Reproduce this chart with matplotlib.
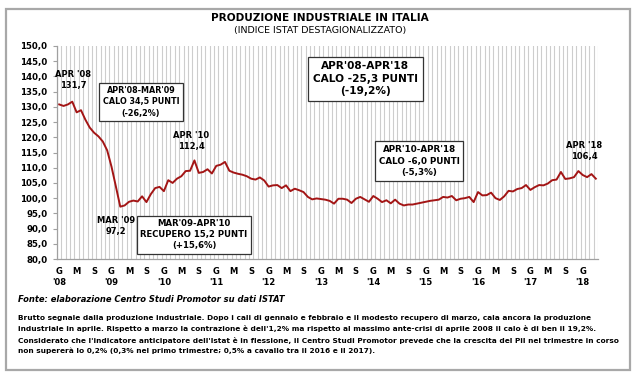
import matplotlib

matplotlib.use("Agg")
import matplotlib.pyplot as plt
from matplotlib.patches import Rectangle
import numpy as np

# indice mensile destagionalizzato, gen 2008 - apr 2018
produzione = [
    130.8, 130.3, 130.8, 131.7, 128.2, 128.9, 125.8, 123.2, 121.5, 120.3, 118.6, 115.7,
    110.3, 103.8, 97.2, 97.6, 98.8, 99.2, 98.9, 100.6, 98.7, 101.3, 103.3, 103.7,
    102.3, 105.9, 105.0, 106.4, 107.2, 108.9, 109.0, 112.4, 108.3, 108.6, 109.5, 108.1,
    110.6, 111.0, 111.9, 109.0, 108.4, 108.0, 107.7, 107.2, 106.4, 106.1, 106.8, 105.8,
    103.8, 104.2, 104.3, 103.3, 104.2, 102.3, 103.1, 102.6, 102.0, 100.4, 99.6, 99.9,
    99.7, 99.5, 99.1, 98.2, 99.8, 99.8, 99.5, 98.4, 99.8, 100.4, 99.6, 98.8,
    100.7, 99.8, 98.7, 99.3, 98.3, 99.5, 98.2, 97.6, 97.9, 97.9, 98.2, 98.5,
    98.8, 99.1, 99.3, 99.5, 100.4, 100.2, 100.7, 99.3, 99.8, 100.0, 100.4, 98.7,
    102.0, 100.9, 101.0, 101.8, 100.0, 99.4, 100.6, 102.4, 102.2, 103.0, 103.3, 104.3,
    102.7, 103.6, 104.3, 104.2, 104.8, 105.9, 106.1, 108.6, 106.3, 106.5, 106.9, 108.9,
    107.6, 106.9, 107.9, 106.4,
]
mesi_lettere = ["G", "M", "S"]
anni = ["'08", "'09", "'10", "'11", "'12", "'13", "'14", "'15", "'16", "'17", "'18"]

titolo = "PRODUZIONE INDUSTRIALE IN ITALIA"
sottotitolo = "(INDICE ISTAT DESTAGIONALIZZATO)"
fonte = "Fonte: elaborazione Centro Studi Promotor su dati ISTAT"
commento = [
    "Brutto segnale dalla produzione industriale. Dopo i cali di gennaio e febbraio e il modesto recupero di marzo, cala ancora la produzione",
    "industriale in aprile. Rispetto a marzo la contrazione è dell'1,2% ma rispetto al massimo ante-crisi di aprile 2008 il calo è di ben il 19,2%.",
    "Considerato che l'indicatore anticipatore dell'Istat è in flessione, il Centro Studi Promotor prevede che la crescita del Pil nel trimestre in corso",
    "non supererà lo 0,2% (0,3% nel primo trimestre; 0,5% a cavallo tra il 2016 e il 2017).",
]

W, H = 640, 373
fig = plt.figure(figsize=(W / 100, H / 100), dpi=100)
fig.patch.set_facecolor("white")

# cornice esterna
fig.patches.append(Rectangle((6 / W, 1 - 370 / H), 624 / W, 361 / H, transform=fig.transFigure,
                             fill=False, edgecolor="#a8a8a8", linewidth=1.6))

ax = fig.add_axes([57 / W, 1 - 259 / H, 541 / W, 213 / H])
x = np.arange(len(produzione))
ax.plot(x, produzione, color="#a31515", linewidth=1.4, solid_joinstyle="round")

ax.set_xlim(-0.5, len(produzione) - 0.5)
ax.set_ylim(80, 150)
ax.set_yticks(np.arange(80, 151, 5))
ax.set_yticklabels([f"{v:.1f}".replace(".", ",") for v in np.arange(80, 151, 5)],
                   fontsize=6.2, fontweight="bold")

ticks = np.arange(0, len(produzione), 4)
labels = []
for t in ticks:
    lab = mesi_lettere[(t % 12) // 4]
    if t % 12 == 0:
        lab += "\n" + anni[t // 12]
    labels.append(lab)
ax.set_xticks(ticks)
ax.set_xticklabels(labels, fontsize=6, fontweight="bold", linespacing=1.3)
ax.tick_params(axis="x", length=0, pad=6)
ax.tick_params(axis="y", length=3, color="#a0a0a0", pad=4)

ax.set_xticks(np.arange(-0.5, len(produzione), 1), minor=True)
ax.tick_params(axis="x", which="minor", length=0)
ax.grid(True, which="minor", axis="x", color="#cdcdcd", linewidth=0.8)
ax.set_axisbelow(True)
for side in ("top", "right"):
    ax.spines[side].set_visible(False)
for side in ("left", "bottom"):
    ax.spines[side].set_color("#a0a0a0")
    ax.spines[side].set_linewidth(0.9)

fig.text(0.5, 1 - 18 / H, titolo, ha="center", va="center", fontsize=7.6, fontweight="bold")
fig.text(0.5, 1 - 31 / H, sottotitolo, ha="center", va="center", fontsize=6.8)

etichetta = dict(ha="center", va="center", fontsize=6, fontweight="bold", linespacing=1.3)


def riquadro(pad):
    return dict(boxstyle=f"square,pad={pad}", facecolor="white", edgecolor="#333333", linewidth=0.9)


ax.text(3.2, 138.8, "APR '08\n131,7", **etichetta)
ax.text(30.2, 118.9, "APR '10\n112,4", **etichetta)
ax.text(13.0, 90.7, "MAR '09\n97,2", **etichetta)
ax.text(120.4, 115.5, "APR '18\n106,4", **etichetta)

ax.text(18.75, 131.6, "APR'08-MAR'09\nCALO 34,5 PUNTI\n(-26,2%)", bbox=riquadro(0.4),
        **{**etichetta, "fontsize": 5.8})
ax.text(30.9, 88.0, "MAR'09-APR'10\nRECUPERO 15,2 PUNTI\n(+15,6%)", bbox=riquadro(0.4),
        **{**etichetta, "fontsize": 6.1})
ax.text(70.2, 139.2, "APR'08-APR'18\nCALO -25,3 PUNTI\n(-19,2%)", bbox=riquadro(0.45),
        **{**etichetta, "fontsize": 7.6})
ax.text(82.5, 112.2, "APR'10-APR'18\nCALO -6,0 PUNTI\n(-5,3%)", bbox=riquadro(0.45),
        **{**etichetta, "fontsize": 6.3})

fig.text(18 / W, 1 - 300 / H, fonte, ha="left", va="center", fontsize=6,
         fontweight="bold", fontstyle="italic")
for i, riga in enumerate(commento):
    fig.text(18 / W, 1 - (318 + 11 * i) / H, riga, ha="left", va="center",
             fontsize=5.3, fontweight="bold")

fig.savefig("out.png", dpi=100)
